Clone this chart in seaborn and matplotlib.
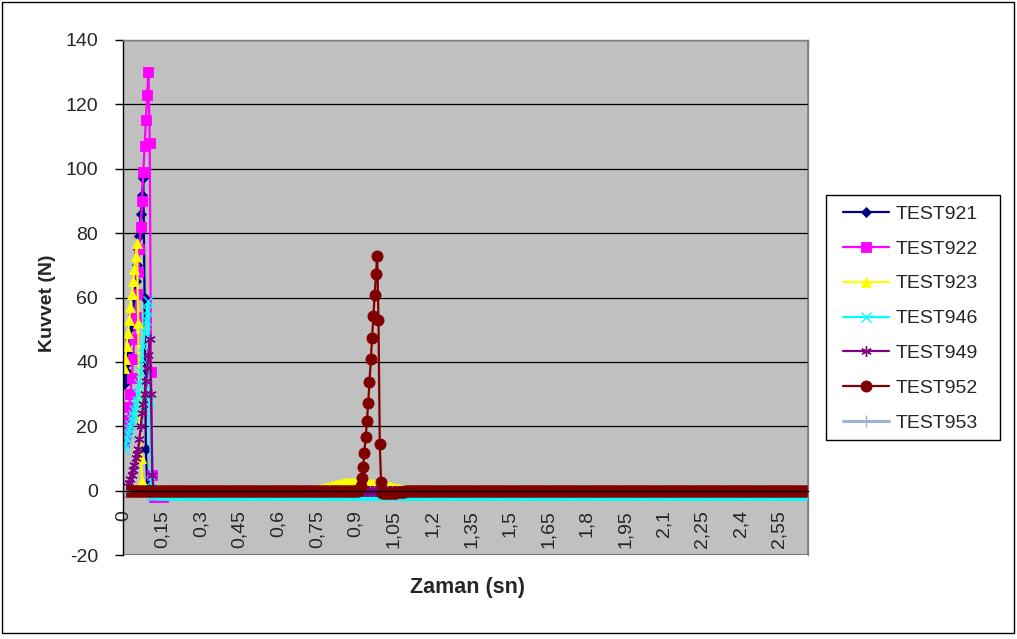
import numpy as np
import pandas as pd
import matplotlib
matplotlib.use("Agg")
import matplotlib.pyplot as plt
from matplotlib.patches import Rectangle
import seaborn as sns

# ---- sampling grid (s) ----
DT = 0.005
N_SAMPLES = 533
time_s = np.round(np.arange(N_SAMPLES) * DT, 4)

series_names = ["TEST921", "TEST922", "TEST923", "TEST946", "TEST949", "TEST952", "TEST953"]

# recorded force pulses (N); each starts at the given sample index,
# the signal sits on the listed baseline outside the pulse
test921_start = 0
test921_pulse = [33, 35, 37, 40, 43, 47, 51, 55, 60, 65, 70, 75, 79, 86, 92, 97, 60, 13, 2, 0]
test921_base = 0.0

test922_start = 0
test922_pulse = [15, 17, 19, 22, 26, 30, 35, 41, 47, 54, 61, 68, 75, 82, 90, 99, 107, 115, 123,
                 130, 108, 37, 5, -2, -2, -2, -2, -2, -2, -2, -2, -1, -1, -1]
test922_base = 0.0

test923_start = 0
test923_pulse = [38, 41, 45, 49, 53, 57, 61, 65, 69, 73, 77, 52, 28, 10, 3, 0.5]
test923_base = 0.0
test923_bump_start = 150
test923_bump = [0.2, 0.3, 0.4, 0.5, 0.6, 0.7, 0.8, 0.9, 1.0, 1.1, 1.2, 1.3, 1.4, 1.5, 1.6, 1.7,
                1.8, 1.9, 2.0, 2.1, 2.2, 2.3, 2.3, 2.4, 2.4, 2.4, 2.4, 2.5, 2.5, 2.5, 2.5, 2.5,
                2.5, 2.4, 2.4, 2.4, 2.3, 2.3, 2.3, 2.2, 2.2, 2.1, 2.1, 2.0, 2.0, 1.9, 1.9, 1.8,
                1.8, 1.7, 1.7, 1.6, 1.5, 1.5, 1.4, 1.3, 1.2, 1.1, 1.0, 0.9, 0.8, 0.7, 0.6, 0.5,
                0.4, 0.3, 0.2, 0.1]

test946_start = 0
test946_pulse = [13, 14.5, 16, 17.5, 19, 20.5, 22, 23.5, 25, 26.5, 28, 30, 33, 37, 41, 45, 49,
                 53, 56, 59, 28, 3, -1.3]
test946_base = -1.3

test949_start = 0
test949_pulse = [0, 0.3, 0.8, 1.5, 2.5, 3.5, 5, 6.5, 8, 10, 11.5, 13, 16, 20, 24, 27, 30, 34,
                 38, 42, 47, 30, 5, 0]
test949_base = 0.0

test952_start = 183
test952_pulse = [0.5, 1.5, 3.8, 7.3, 11.8, 16.6, 21.6, 27.3, 33.7, 40.8, 47.4, 54.1, 60.9, 67.2,
                 72.8, 52.9, 14.5, 2.6, -0.8, -0.8, -0.8, -0.8, -0.8, -0.8, -0.8, -0.8, -0.8,
                 -0.8, -0.8, -0.8, -0.5, -0.5, -0.5, -0.5, -0.5, -0.5]
test952_base = 0.0

test953_values = [0, 0]

x_tick_values = [0, 0.15, 0.3, 0.45, 0.6, 0.75, 0.9, 1.05, 1.2, 1.35, 1.5, 1.65, 1.8, 1.95,
                 2.1, 2.25, 2.4, 2.55]
x_tick_labels = ["0", "0,15", "0,3", "0,45", "0,6", "0,75", "0,9", "1,05", "1,2", "1,35", "1,5",
                 "1,65", "1,8", "1,95", "2,1", "2,25", "2,4", "2,55"]
y_tick_values = [-20, 0, 20, 40, 60, 80, 100, 120, 140]


def assemble(base, segments):
    vals = np.full(N_SAMPLES, base, dtype=float)
    for start, seg in segments:
        vals[start:start + len(seg)] = seg
    return vals


series_values = {
    "TEST921": assemble(test921_base, [(test921_start, test921_pulse)]),
    "TEST922": assemble(test922_base, [(test922_start, test922_pulse)]),
    "TEST923": assemble(test923_base, [(test923_start, test923_pulse),
                                       (test923_bump_start, test923_bump)]),
    "TEST946": assemble(test946_base, [(test946_start, test946_pulse)]),
    "TEST949": assemble(test949_base, [(test949_start, test949_pulse)]),
    "TEST952": assemble(test952_base, [(test952_start, test952_pulse)]),
}

frames = [pd.DataFrame({"Zaman": time_s, "Kuvvet": v, "Seri": k}) for k, v in series_values.items()]
frames.append(pd.DataFrame({"Zaman": time_s[:len(test953_values)], "Kuvvet": test953_values,
                            "Seri": "TEST953"}))
data = pd.concat(frames, ignore_index=True)

styles = {
    "TEST921": dict(color="#000080", marker="D", ms=5.5, mew=0.6),
    "TEST922": dict(color="#FF00FF", marker="s", ms=7.0, mew=0.6),
    "TEST923": dict(color="#FFFF00", marker="^", ms=7.0, mew=0.6),
    "TEST946": dict(color="#00FFFF", marker="x", ms=6.5, mew=1.0),
    "TEST949": dict(color="#800080", marker=(6, 2, 0), ms=7.5, mew=1.0),
    "TEST952": dict(color="#800000", marker="o", ms=8.0, mew=0.6),
    "TEST953": dict(color="#9BB4DA", marker="+", ms=8.0, mew=1.0),
}

sns.set_theme(style="white")
plt.rcParams["font.family"] = ["Liberation Sans", "DejaVu Sans"]

fig = plt.figure(figsize=(10.17, 6.39), dpi=100)
ax = fig.add_axes([123 / 1017, 1 - 555 / 639, 685 / 1017, 515 / 639])
ax.set_facecolor("#C0C0C0")

for name in series_names:
    st = styles[name]
    sub = data[data["Seri"] == name]
    sns.lineplot(data=sub, x="Zaman", y="Kuvvet", ax=ax, color=st["color"],
                 marker=st["marker"], markersize=st["ms"], markeredgecolor=st["color"],
                 markerfacecolor=st["color"], markeredgewidth=st["mew"],
                 linewidth=2.2 if name == "TEST953" else 1.6,
                 estimator=None, sort=False, label=name, legend=False)

ax.set_xlim(-0.004, 2.661)
ax.set_ylim(-20, 140)

# value axis on the left, category axis crossing at zero
ax.set_yticks(y_tick_values)
ax.set_yticklabels([str(v) for v in y_tick_values])
ax.set_xticks(x_tick_values)
ax.set_xticklabels(x_tick_labels)
ax.spines["bottom"].set_position(("data", 0))
ax.spines["bottom"].set_color("black")
ax.spines["bottom"].set_linewidth(1.0)
ax.spines["left"].set_color("black")
ax.spines["left"].set_linewidth(1.0)
for s in ("top", "right"):
    ax.spines[s].set_color("#808080")
    ax.spines[s].set_linewidth(1.0)
ax.add_patch(Rectangle((0, 0), 1, 1, transform=ax.transAxes, fill=False,
                       edgecolor="#808080", linewidth=1.2, zorder=0.5))

ax.tick_params(axis="y", direction="out", length=6, width=1, color="black",
               pad=12, labelsize=14, left=True)
ax.tick_params(axis="x", direction="out", length=4, width=1, color="black",
               pad=10, labelsize=14, bottom=True, labelrotation=90)

ax.yaxis.grid(True, color="black", linewidth=0.9)
ax.xaxis.grid(False)
ax.set_axisbelow(True)

ax.set_xlabel("")
ax.set_ylabel("")
fig.text(468 / 1017, 1 - 588 / 639, "Zaman (sn)", ha="center", va="center",
         fontsize=15.5, fontweight="bold")
fig.text(47 / 1017, 1 - 303 / 639, "Kuvvet (N)", ha="center", va="center",
         rotation=90, fontsize=14, fontweight="bold")

handles, labels = ax.get_legend_handles_labels()
leg = fig.legend(handles, labels, loc="upper left",
                 bbox_to_anchor=(843 / 1017, 1 - 205 / 639), bbox_transform=fig.transFigure,
                 frameon=False, fontsize=14, borderpad=0, borderaxespad=0,
                 handlelength=2.35, handletextpad=0.35, labelspacing=0.89)
fig.add_artist(Rectangle((826 / 1017, 1 - 440 / 639), 174 / 1017, 245 / 639,
                         transform=fig.transFigure, facecolor="white", edgecolor="black",
                         linewidth=1.0, zorder=-1))

# outer chart border
fig.add_artist(Rectangle((2 / 1017, 1 - 633 / 639), 1012 / 1017, 631 / 639,
                         transform=fig.transFigure, fill=False, edgecolor="black",
                         linewidth=1.0))

fig.savefig("out.png", dpi=100, facecolor="white")
